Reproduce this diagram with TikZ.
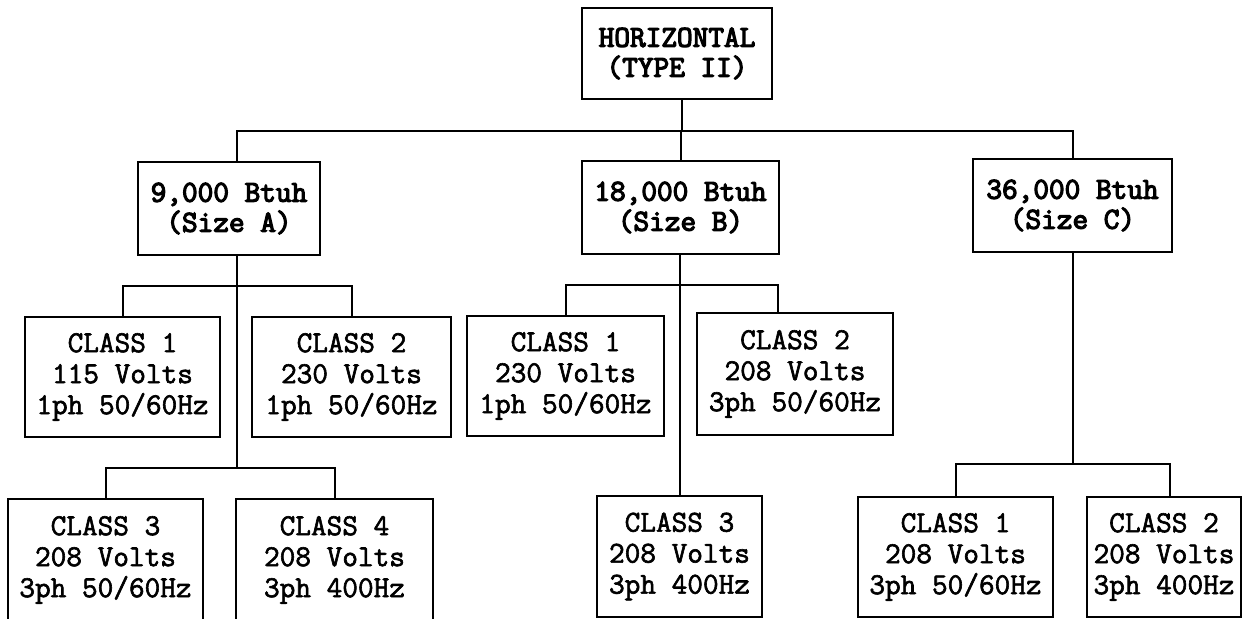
\documentclass[tikz,border=0pt]{standalone}
\usepackage{fontspec}
\newfontfamily\classfont{Latin Modern Mono}[FakeBold=2]
\newfontfamily\sizefont{Latin Modern Mono}[FakeBold=4]
\usetikzlibrary{positioning}

\tikzset{
  unit/.style={draw, line width=1pt, align=center, inner sep=0pt,
    font=\classfont\fontsize{15.2}{15.5}\selectfont},
  sizebox/.style={unit, font=\sizefont\fontsize{15.2}{15}\selectfont},
}

\begin{document}
\begin{tikzpicture}[x=0.5pt, y=-0.5pt, line width=1pt]

\useasboundingbox (0,0) rectangle (1246,619);

\node[sizebox, minimum width=95pt, minimum height=45.5pt] (top) at (677,53.5) {HORIZONTAL\\(TYPE II)};

\node[sizebox, minimum width=91pt, minimum height=46.5pt] (sA) at (229,208.5) {9,000 Btuh\\(Size A)};
\node[sizebox, minimum width=98.5pt, minimum height=46.5pt] (sB) at (680.5,207.5) {18,000 Btuh\\(Size B)};
\node[sizebox, minimum width=99.5pt, minimum height=46.5pt] (sC) at (1072.5,205.5) {36,000 Btuh\\(Size C)};

% size A
\node[unit, minimum width=97.5pt, minimum height=60pt] (a1) at (122.5,377) {CLASS 1\\115 Volts\\1ph 50/60Hz};
\node[unit, minimum width=99.5pt, minimum height=60pt] (a2) at (351.5,377) {CLASS 2\\230 Volts\\1ph 50/60Hz};
\node[unit, minimum width=97.5pt, minimum height=61pt] (a3) at (105.5,560) {CLASS 3\\208 Volts\\3ph 50/60Hz};
\node[unit, minimum width=98.5pt, minimum height=61pt] (a4) at (334.5,560) {CLASS 4\\208 Volts\\3ph 400Hz};

% size B
\node[unit, minimum width=98.5pt, minimum height=60pt] (b1) at (565.5,376) {CLASS 1\\230 Volts\\1ph 50/60Hz};
\node[unit, minimum width=98pt, minimum height=61pt] (b2) at (795,374) {CLASS 2\\208 Volts\\3ph 50/60Hz};
\node[unit, minimum width=82.5pt, minimum height=60.5pt] (b3) at (679.5,556.5) {CLASS 3\\208 Volts\\3ph 400Hz};

% size C
\node[unit, minimum width=97.5pt, minimum height=60pt] (c1) at (955.5,557) {CLASS 1\\208 Volts\\3ph 50/60Hz};
\node[unit, minimum width=77pt, minimum height=60pt] (c2) at (1164,557) {CLASS 2\\208 Volts\\3ph 400Hz};

% bus levels
\coordinate (bus) at (0,131);
\coordinate (busA) at (0,286);
\coordinate (busAA) at (0,468);
\coordinate (busB) at (0,285);
\coordinate (busC) at (0,464);

\coordinate (topout) at ([xshift=2.5pt]top.south);
\coordinate (inA) at ([xshift=4pt]sA.north);
\coordinate (outA) at ([xshift=4pt]sA.south);
\coordinate (outB) at (b3.north);
\coordinate (inb2) at ([xshift=-8.5pt]b2.north);
\coordinate (inc2) at ([xshift=3pt]c2.north);

\draw (topout) -- (topout |- bus);
\draw (inA) -- (inA |- bus) -- (sC.north |- bus) -- (sC.north);
\draw (sB.north |- bus) -- (sB.north);

\draw (outA) -- (outA |- busAA);
\draw (a1.north) -- (a1.north |- busA) -- (a2.north |- busA) -- (a2.north);
\draw (a3.north) -- (a3.north |- busAA) -- (a4.north |- busAA) -- (a4.north);

\draw (sB.south -| outB) -- (outB);
\draw (b1.north) -- (b1.north |- busB) -- (inb2 |- busB) -- (inb2);

\draw (sC.south) -- (sC.south |- busC);
\draw (c1.north) -- (c1.north |- busC) -- (inc2 |- busC) -- (inc2);

\end{tikzpicture}
\end{document}
